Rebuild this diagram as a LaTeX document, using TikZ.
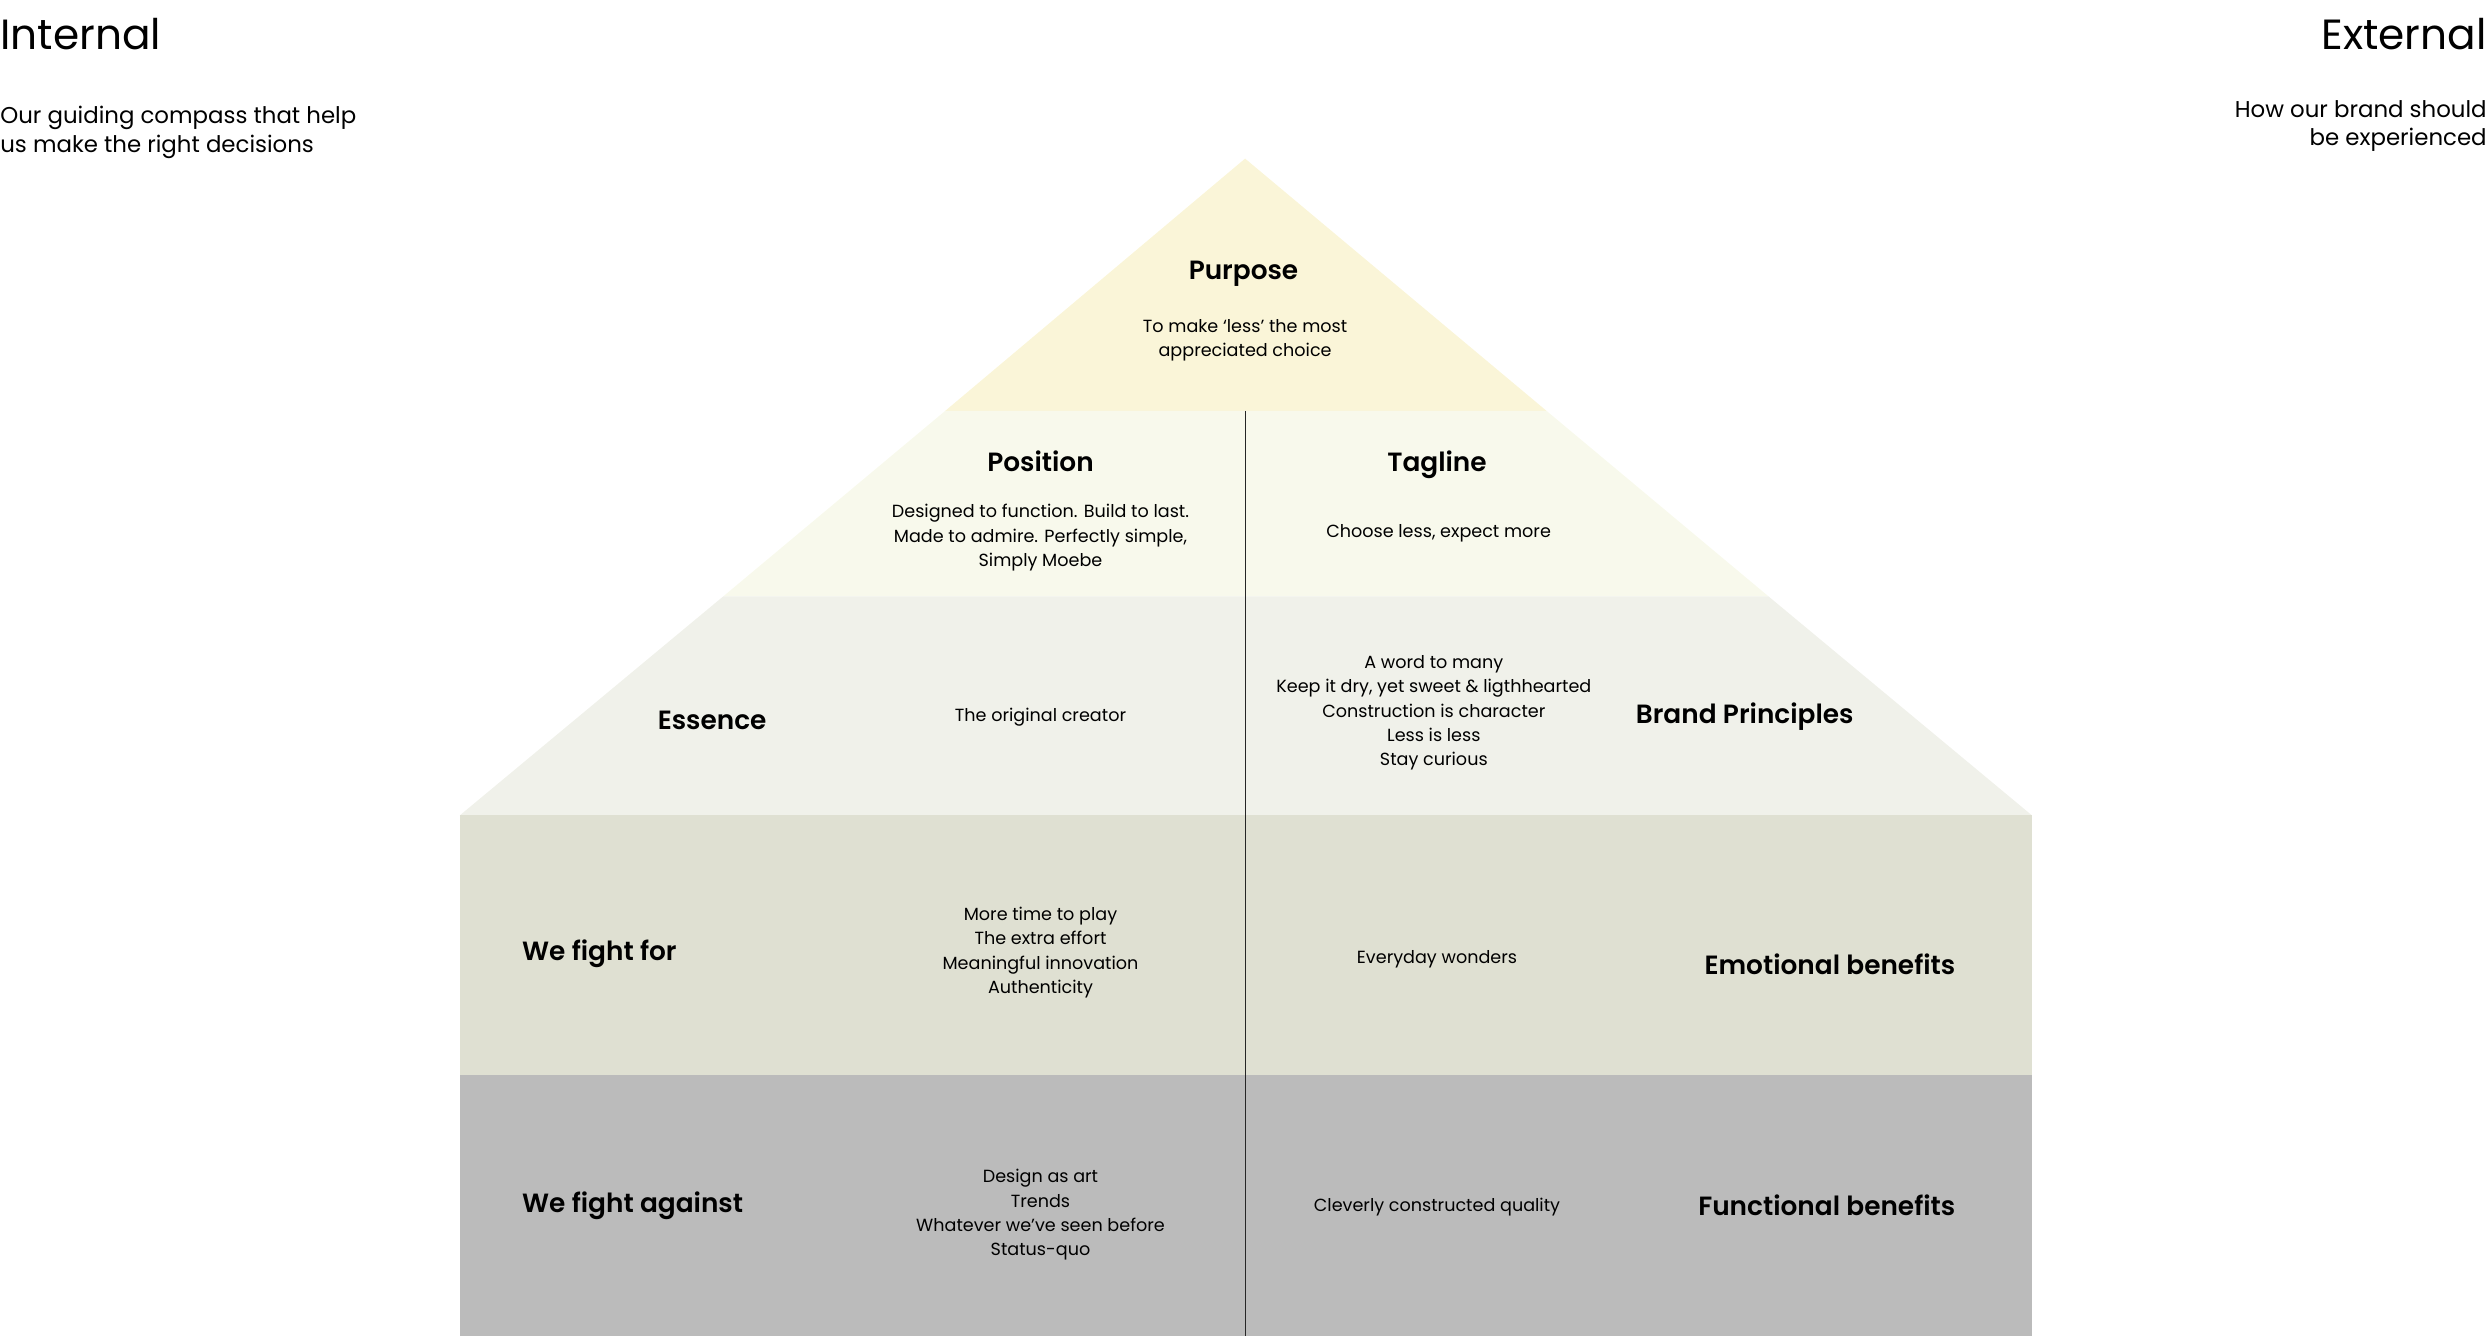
\documentclass[tikz,border=0pt]{standalone}
\usepackage{fontspec}
\setmainfont{Poppins}[BoldFont={Poppins SemiBold}]
\usepackage{tikz}
\usetikzlibrary{positioning}

\definecolor{purposefill}{HTML}{FAF5D8}
\definecolor{positionfill}{HTML}{F8F9EC}
\definecolor{essencefill}{HTML}{F0F1EA}
\definecolor{forfill}{HTML}{DFE0D2}
\definecolor{againstfill}{HTML}{BBBBBB}

\begin{document}
\begin{tikzpicture}[x=0.0317cm,y=-0.0317cm,
        bigtitle/.style={inner sep=0pt,font=\fontsize{24}{28}\selectfont},
        subtitle/.style={inner sep=0pt,font=\fontsize{13}{16.2}\selectfont},
        head/.style={inner sep=0pt,font=\fontsize{15}{18}\selectfont\bfseries},
        body/.style={inner sep=0pt,align=center,font=\fontsize{10}{13.8}\selectfont}]
        \useasboundingbox (0,0) rectangle (1568,842);

        % the house
        \fill[purposefill] (785,100) -- (975,259) -- (596,259) -- cycle; % roof top
        \fill[positionfill] (596,259) -- (975,259) -- (1115,376) -- (456,376) -- cycle;
        \fill[essencefill] (456,376) -- (1115,376) -- (1281,514) -- (290,514) -- cycle;
        \fill[forfill] (290,514) rectangle (1281,678);
        \fill[againstfill] (290,678) rectangle (1281,842);

        \coordinate (midtop) at (785,259);
        \coordinate (midbot) at (785,842);
        \draw[line width=0.6pt,black!85] (midtop) -- (midbot); % divider

        % side titles
        \node[bigtitle,anchor=base west] (internal) at (0,31) {Internal};
        \node[subtitle,anchor=base west,align=left] (internalsub) at (0,96)
            {Our guiding compass that help\\us make the right decisions};
        \node[bigtitle,anchor=base east] (external) at (1568,31) {External};
        \node[subtitle,anchor=base east,align=right] (externalsub) at (1568,92)
            {How our brand should\\be experienced};

        % purpose
        \node[head,anchor=base] (purpose) at (784,176) {Purpose};
        \node[body] (purposetxt) at (785,214.5) {To make `less' the most\\appreciated choice};

        % position and tagline
        \node[head,anchor=base] (position) at (656,297) {Position};
        \node[body] (positiontxt) at (656,339)
            {Designed to function. Build to last.\\Made to admire. Perfectly simple,\\Simply Moebe};
        \node[head,anchor=base] (tagline) at (906,297) {Tagline};
        \node[body] (taglinetxt) at (907,336.5) {Choose less, expect more};

        % essence and principles
        \node[head] (essence) at (449,454) {Essence};
        \node[body] (essencetxt) at (656,452) {The original creator};
        \node[body] (principlestxt) at (904,449.5)
            {A word to many\\Keep it dry, yet sweet \& ligthhearted\\Construction is character\\Less is less\\Stay curious};
        \node[head] (principles) at (1100,452) {Brand Principles};

        % fight for
        \node[head,anchor=west] (fightfor) at (329,601.5) {We fight for};
        \node[body] (fightfortxt) at (656,600.5)
            {More time to play\\The extra effort\\Meaningful innovation\\Authenticity};
        \node[body] (emotionaltxt) at (906,605) {Everyday wonders};
        \node[head,anchor=east] (emotional) at (1233,608) {Emotional benefits};

        % fight against
        \node[head,anchor=west] (fightagainst) at (329,760.5) {We fight against};
        \node[body] (fightagainsttxt) at (656,766)
            {Design as art\\Trends\\Whatever we've seen before\\Status-quo};
        \node[body] (functionaltxt) at (906,761) {Cleverly constructed quality};
        \node[head,anchor=east] (functional) at (1233,760) {Functional benefits};
\end{tikzpicture}
\end{document}
